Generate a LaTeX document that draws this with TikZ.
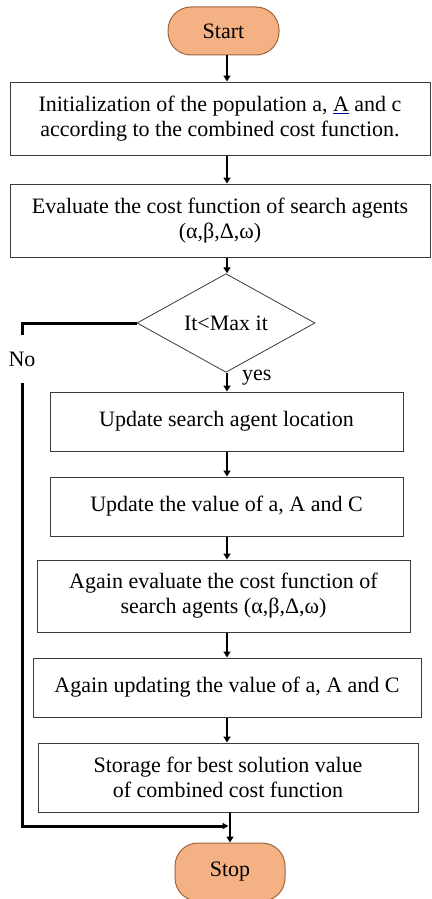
\documentclass[tikz,border=0pt]{standalone}
\usepackage{fontspec}
\setmainfont{Liberation Serif}
\usetikzlibrary{shapes.geometric}
\usetikzlibrary{positioning}
\usetikzlibrary{arrows.meta}
\usepackage{xcolor}
\definecolor{termfill}{HTML}{F4B183}
\definecolor{termline}{HTML}{9C6640}
\definecolor{boxline}{HTML}{3A3A3A}

\tikzset{
  procbox/.style={draw=boxline, line width=1pt, fill=white, align=center, inner sep=0pt,
    font=\fontsize{22}{25}\selectfont},
  termbox/.style={draw=termline, line width=1pt, fill=termfill, rounded corners=23pt,
    inner sep=0pt, font=\fontsize{22}{25}\selectfont},
  flow/.style={line width=2.8pt, -{Triangle[length=6pt,width=7pt]}},
}

\begin{document}
\begin{tikzpicture}[x=1pt,y=-1pt]
\useasboundingbox (0,0) rectangle (431,899);
\coordinate (spine) at (227,0);
% terminals
\node[termbox, minimum width=111pt, minimum height=48pt] (start) at (223.5,31) {Start};
\node[termbox, minimum width=110pt, minimum height=58pt] (stop) at (230,872) {Stop};
% process boxes
\node[procbox, minimum width=420pt, minimum height=73pt] (init) at (220,118.5)
  {Initialization of the population a, \textcolor{blue!55!black}{\underline{\textcolor{black}{A}}} and c\\according to the combined cost function.};
\node[procbox, minimum width=420pt, minimum height=73pt] (evalcost) at (220,220.5)
  {Evaluate the cost function of search agents\\(α,β,Δ,ω)};
\node[draw=boxline, line width=0.8pt, fill=white, shape=diamond, inner sep=0pt,
  minimum width=178pt, minimum height=80pt, font=\fontsize{22}{25}\selectfont] (dec) at (226,323) {It<Max it};
\node[procbox, minimum width=353pt, minimum height=59pt] (updloc) at (226.5,421.5)
  {Update search agent location};
\node[procbox, minimum width=353pt, minimum height=59pt] (updval) at (226.5,506.5)
  {Update the value of a, A and C};
\node[procbox, minimum width=373pt, minimum height=72pt] (againeval) at (223.5,596)
  {Again evaluate the cost function of\\search agents (α,β,Δ,ω)};
\node[procbox, minimum width=388pt, minimum height=59pt] (againupd) at (227,687.5)
  {Again updating the value of a, A and C};
\node[procbox, minimum width=380pt, minimum height=69pt] (store) at (228,777.5)
  {Storage for best solution value\\of combined cost function};
% labels
\node[font=\fontsize{22}{25}\selectfont, minimum height=48pt, inner sep=0pt] (nolbl) at (22,359) {No};
\node[font=\fontsize{22}{25}\selectfont, inner sep=0pt, anchor=west] (yeslbl) at (242,378) {yes};
\coordinate (join) at (230,826);
% connectors
\draw[flow] (start.south -| spine) -- (init.north -| spine);
\draw[flow] (init.south -| spine) -- (evalcost.north -| spine);
\draw[flow] (evalcost.south -| spine) -- (dec.north -| spine);
\draw[flow] (dec.south -| spine) -- (updloc.north -| spine);
\draw[flow] (updloc.south -| spine) -- (updval.north -| spine);
\draw[flow] (updval.south -| spine) -- (againeval.north -| spine);
\draw[flow] (againeval.south -| spine) -- (againupd.north -| spine);
\draw[flow] (againupd.south -| spine) -- (store.north -| spine);
\draw[flow] (store.south -| stop) -- (stop.north);
\draw[line width=3pt] (dec.west) -| (nolbl.north);
\draw[line width=3pt, -{Triangle[length=6pt,width=6pt]}] (nolbl.south) |- ([xshift=-1.5pt]join);
\end{tikzpicture}
\end{document}
